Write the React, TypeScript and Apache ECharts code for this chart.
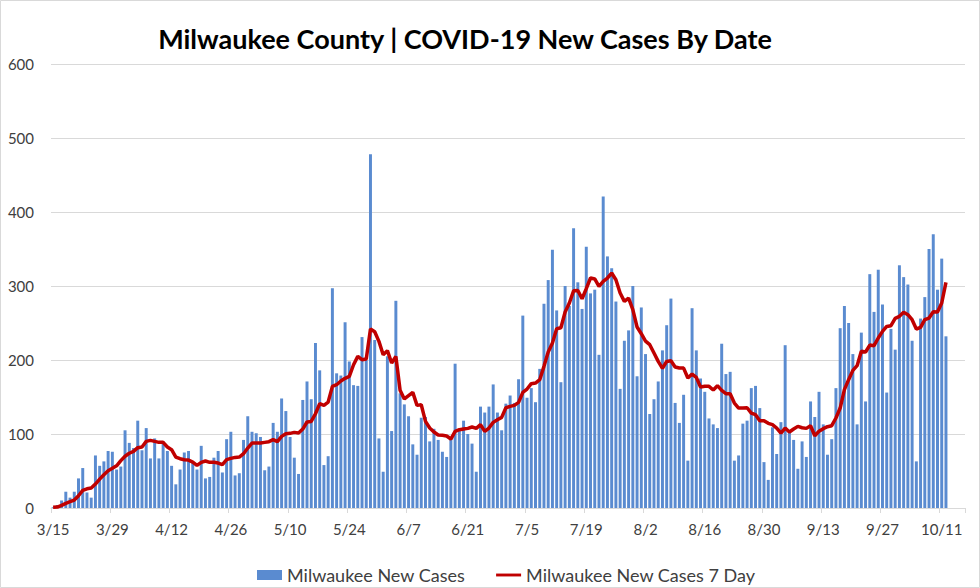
import React, { useEffect, useRef } from "react";
import * as echarts from "echarts";

const categories: string[] = [
  "3/15","3/16","3/17","3/18","3/19","3/20","3/21","3/22","3/23","3/24","3/25","3/26","3/27","3/28","3/29","3/30","3/31",
  "4/1","4/2","4/3","4/4","4/5","4/6","4/7","4/8","4/9","4/10","4/11","4/12","4/13","4/14","4/15","4/16","4/17","4/18","4/19","4/20","4/21","4/22","4/23","4/24","4/25","4/26","4/27","4/28","4/29","4/30",
  "5/1","5/2","5/3","5/4","5/5","5/6","5/7","5/8","5/9","5/10","5/11","5/12","5/13","5/14","5/15","5/16","5/17","5/18","5/19","5/20","5/21","5/22","5/23","5/24","5/25","5/26","5/27","5/28","5/29","5/30","5/31",
  "6/1","6/2","6/3","6/4","6/5","6/6","6/7","6/8","6/9","6/10","6/11","6/12","6/13","6/14","6/15","6/16","6/17","6/18","6/19","6/20","6/21","6/22","6/23","6/24","6/25","6/26","6/27","6/28","6/29","6/30",
  "7/1","7/2","7/3","7/4","7/5","7/6","7/7","7/8","7/9","7/10","7/11","7/12","7/13","7/14","7/15","7/16","7/17","7/18","7/19","7/20","7/21","7/22","7/23","7/24","7/25","7/26","7/27","7/28","7/29","7/30","7/31",
  "8/1","8/2","8/3","8/4","8/5","8/6","8/7","8/8","8/9","8/10","8/11","8/12","8/13","8/14","8/15","8/16","8/17","8/18","8/19","8/20","8/21","8/22","8/23","8/24","8/25","8/26","8/27","8/28","8/29","8/30","8/31",
  "9/1","9/2","9/3","9/4","9/5","9/6","9/7","9/8","9/9","9/10","9/11","9/12","9/13","9/14","9/15","9/16","9/17","9/18","9/19","9/20","9/21","9/22","9/23","9/24","9/25","9/26","9/27","9/28","9/29","9/30",
  "10/1","10/2","10/3","10/4","10/5","10/6","10/7","10/8","10/9","10/10","10/11","10/12","10/13","10/14","10/15","10/16",
];

const newCases: number[] = [
  1, 4, 10, 22, 14, 22, 40, 54, 21, 14, 71, 57, 63, 77, 76, 52, 56,
  105, 88, 81, 118, 78, 108, 67, 94, 67, 90, 77, 57, 32, 52, 75, 77, 61, 52, 84, 40,
  42, 68, 77, 48, 93, 103, 44, 47, 92, 124, 103, 101, 96, 51, 56, 115, 103, 148, 131, 96,
  68, 46, 146, 171, 147, 223, 186, 58, 70, 297, 182, 179, 251, 198, 166, 165,
  231, 200, 478, 227, 94, 49, 205, 104, 280, 155, 140, 124, 86, 72, 122, 123, 90, 107, 92,
  76, 69, 92, 195, 106, 118, 100, 87, 49, 137, 129, 137, 167, 129, 105, 141, 152, 142,
  174, 260, 149, 162, 143, 188, 276, 308, 349, 267, 170, 300, 273, 378, 305, 269, 353, 290,
  295, 207, 421, 340, 324, 279, 161, 226, 240, 300, 178, 271, 208, 127, 147, 171, 213, 247, 283,
  142, 115, 153, 64, 270, 213, 175, 157, 121, 113, 108, 222, 181, 184, 64, 71, 114, 118,
  162, 165, 135, 62, 38, 109, 73, 116, 220, 102, 92, 53, 90, 69, 144, 123, 157, 113,
  72, 93, 162, 243, 273, 250, 208, 113, 237, 144, 316, 265, 322, 275, 156, 242, 214,
  328, 312, 302, 226, 63, 256, 285, 350, 370, 295, 337, 232,
];

const sevenDay: number[] = [
  1, 1.3, 3.6, 6.3, 8.5, 10.8, 16.6, 23.8, 26, 27, 32.4, 39, 45, 50.4, 53.6, 57, 64,
  70, 74, 76.5, 81.5, 82.4, 90, 91.4, 90, 88.7, 88.7, 82.4, 78.8, 68.9, 66.6, 65.3, 64.8, 62.1, 57.6, 61.7, 63.5,
  61.7, 61.7, 60.8, 58.5, 65.3, 67, 68.4, 68.9, 73.4, 81, 87.8, 87.8, 87.8, 88.7, 89.6, 92.3, 89.6, 96.8, 100.4, 100.9,
  102.2, 101.3, 106.7, 116.2, 117, 127.4, 141, 138.7, 143.2, 164.4, 166.6, 171.6, 175.2, 177.9, 193.6, 204.9,
  200.4, 201.3, 241.8, 238.2, 225.2, 207.2, 212.6, 195.9, 204.9, 159, 147.3, 151.8, 156.3, 138.7, 139.6, 117.1, 108.1, 102.7, 98.6,
  98.2, 97.3, 93.2, 103.6, 105.8, 106.7, 107.6, 109.4, 107.6, 112.6, 103.6, 108.1, 115.7, 119.3, 122.5, 135.5, 137.3, 138.7,
  142.7, 156.3, 160.8, 168, 168.9, 173.4, 191.4, 210.8, 222.9, 242.3, 243.6, 264.8, 277, 293.6, 294, 282.8, 296.4, 310.8,
  309.5, 299.5, 306.3, 310.8, 317.5, 308.5, 290.5, 279.2, 283.7, 268, 244.6, 235.5, 225.6, 220.7, 209.4, 198.1, 188.7, 198.1, 199.1,
  190.5, 189.1, 189.1, 175.6, 181, 176.5, 163.5, 164.4, 164.4, 159.4, 165.3, 159, 154.5, 154.5, 141.8, 135.1, 135.1, 135.5,
  128.3, 126.1, 118, 118, 114.4, 112.6, 108.1, 101.3, 108.1, 102.7, 106.7, 110.3, 108.5, 107.6, 111.2, 97.7, 103.6, 107.2,
  109.9, 111.2, 121.6, 135.1, 159.9, 173.4, 186, 192.3, 211.7, 210.8, 220.2, 219.3, 229.7, 238.7, 245.4, 246.3, 256.3,
  259, 264.4, 261.2, 254.5, 241.9, 244.1, 254.5, 256.7, 265.3, 264.8, 277, 304.9,
];

const TITLE = "Milwaukee County | COVID-19 New Cases By Date";
const BAR_NAME = "Milwaukee New Cases";
const LINE_NAME = "Milwaukee New Cases 7 Day";

export default function App() {
  const ref = useRef<HTMLDivElement>(null);

  useEffect(() => {
    if (!ref.current) return;
    const chart = echarts.init(ref.current, null, { renderer: "svg" });
    chart.setOption({
      animation: false,
      backgroundColor: "#ffffff",
      textStyle: { fontFamily: "Lato" },
      graphic: [
        {
          type: "rect",
          silent: true,
          shape: { x: 0.5, y: 0.5, width: 979, height: 587 },
          style: { fill: "none", stroke: "#d9d9d9", lineWidth: 1 },
        },
        {
          type: "text",
          x: 465,
          y: 38,
          silent: true,
          style: {
            text: TITLE,
            fontFamily: "Lato",
            fontWeight: "bold",
            fontSize: 27,
            fill: "#000000",
            textAlign: "center",
            textVerticalAlign: "middle",
          },
        },
      ],
      grid: { left: 51, right: 15, top: 64, bottom: 80 },
      legend: {
        top: 561,
        left: 252,
        itemWidth: 25,
        itemHeight: 10,
        itemGap: 31,
        textStyle: { fontFamily: "Lato", fontSize: 18, color: "#404040" },
        data: [
          { name: BAR_NAME, icon: "rect" },
          { name: LINE_NAME, icon: "path://M0,0 H26 V3 H0 Z" },
        ],
      },
      xAxis: {
        type: "category",
        data: categories,
        boundaryGap: true,
        axisLine: { lineStyle: { color: "#d9d9d9", width: 1 } },
        axisTick: { show: true, interval: 13, length: 5, lineStyle: { color: "#d9d9d9" } },
        axisLabel: { interval: 13, color: "#404040", fontSize: 15, margin: 13, fontFamily: "Lato" },
      },
      yAxis: {
        type: "value",
        min: 0,
        max: 600,
        interval: 100,
        axisLine: { show: false },
        axisTick: { show: false },
        axisLabel: { color: "#404040", fontSize: 15, margin: 17, fontFamily: "Lato" },
        splitLine: { lineStyle: { color: "#d9d9d9", width: 1 } },
      },
      series: [
        {
          name: BAR_NAME,
          type: "bar",
          data: newCases,
          barWidth: "70%",
          itemStyle: { color: "#5a8bd0" },
        },
        {
          name: LINE_NAME,
          type: "line",
          data: sevenDay,
          symbol: "none",
          showSymbol: false,
          lineStyle: { color: "#c00000", width: 3.5 },
          itemStyle: { color: "#c00000" },
        },
      ],
    });
    return () => chart.dispose();
  }, []);

  return (
    <div
      ref={ref}
      style={{ position: "fixed", left: 0, top: 0, width: 980, height: 588 }}
    />
  );
}
